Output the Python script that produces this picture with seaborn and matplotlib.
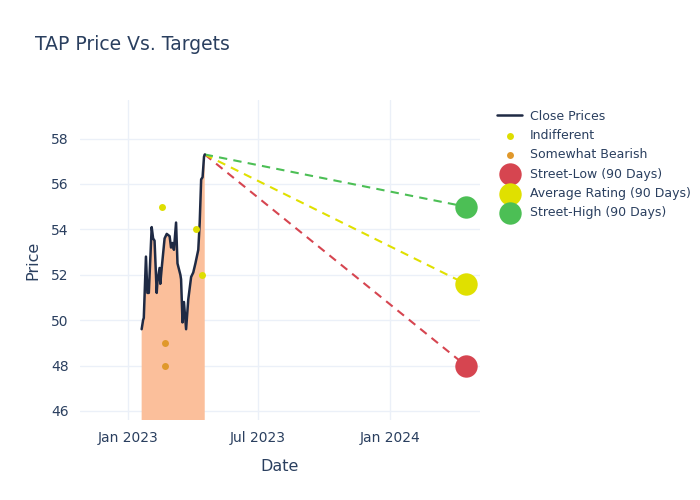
import pandas as pd
import numpy as np
import matplotlib
matplotlib.use('Agg')
import matplotlib.pyplot as plt
import matplotlib.dates as mdates
import seaborn as sns

# close prices
close_dates = ['2023-01-20', '2023-01-22', '2023-01-23', '2023-01-26', '2023-01-28', '2023-01-30',
               '2023-02-03', '2023-02-05', '2023-02-07', '2023-02-10', '2023-02-11', '2023-02-14',
               '2023-02-15', '2023-02-17', '2023-02-21', '2023-02-24', '2023-02-28', '2023-03-02',
               '2023-03-04', '2023-03-06', '2023-03-09', '2023-03-11', '2023-03-15', '2023-03-16',
               '2023-03-18', '2023-03-20', '2023-03-23', '2023-03-26', '2023-03-30', '2023-04-02',
               '2023-04-05', '2023-04-09', '2023-04-11', '2023-04-13', '2023-04-15', '2023-04-17',
               '2023-04-18']
close_prices = [49.6, 50.0, 50.1, 52.8, 51.2, 51.2,
                54.1, 53.6, 53.5, 51.2, 51.7, 52.3,
                51.6, 52.3, 53.6, 53.8, 53.7, 53.2,
                53.4, 53.1, 54.3, 52.5, 52.0, 51.8,
                49.9, 50.8, 49.6, 50.9, 51.9, 52.1,
                52.5, 53.1, 54.3, 56.2, 56.3, 57.2,
                57.3]

indiff_dates = ['2023-02-17', '2023-04-06', '2023-04-14']
indiff_prices = [55, 54, 52]
bearish_dates = ['2023-02-22', '2023-02-22']
bearish_prices = [49, 48]

target_date = '2024-04-16'
target_names = ['Street-Low (90 Days)', 'Average Rating (90 Days)', 'Street-High (90 Days)']
target_values = [48.0, 51.6, 55.0]
target_colors = ['#d64550', '#e0e000', '#4cbf55']

close = pd.DataFrame({'date': pd.to_datetime(close_dates), 'price': close_prices})
indiff = pd.DataFrame({'date': pd.to_datetime(indiff_dates), 'price': indiff_prices})
bearish = pd.DataFrame({'date': pd.to_datetime(bearish_dates), 'price': bearish_prices})

sns.set_style('white')
plt.rcParams['font.family'] = ['DejaVu Sans']
txt = '#2a3f5f'
grid = '#ebf0f8'

fig = plt.figure(figsize=(7, 5), dpi=100)
ax = fig.add_axes([80 / 700, 80 / 500, 400 / 700, 320 / 500])

ax.fill_between(close['date'], close['price'], 0, color='#fbbf9b', lw=0, zorder=1)
sns.lineplot(data=close, x='date', y='price', color='#1f2a44', lw=1.8, ax=ax,
             label='Close Prices', zorder=3)
sns.scatterplot(data=indiff, x='date', y='price', color='#dede00', s=25, lw=0, ax=ax,
                label='Indifferent', zorder=4)
sns.scatterplot(data=bearish, x='date', y='price', color='#e0982a', s=25, lw=0, ax=ax,
                label='Somewhat Bearish', zorder=4)

last_date = close['date'].iloc[-1]
last_price = close['price'].iloc[-1]
tdate = pd.to_datetime(target_date)
for name, val, col in zip(target_names, target_values, target_colors):
    ax.plot([last_date, tdate], [last_price, val], ls=(0, (4, 3)), color=col, lw=1.5, zorder=2)
    sns.scatterplot(x=[tdate], y=[val], color=col, s=260, lw=0, ax=ax, label=name, zorder=5)

ax.set_xlim(pd.Timestamp('2022-10-26'), pd.Timestamp('2024-05-06'))
ax.set_ylim(45.6, 59.7)
ax.set_yticks(np.arange(46, 59, 2))
ax.xaxis.set_major_locator(mdates.MonthLocator(bymonth=[1, 7]))
ax.xaxis.set_major_formatter(mdates.DateFormatter('%b %Y'))
ax.grid(True, color=grid, lw=1)
ax.set_axisbelow(True)
for s in ax.spines.values():
    s.set_visible(False)
ax.tick_params(axis='both', length=0, labelsize=10, colors=txt, pad=8)
ax.set_xlabel('Date', fontsize=11.5, color=txt, labelpad=10)
ax.set_ylabel('Price', fontsize=11.5, color=txt, labelpad=8)

fig.text(35 / 700, 1 - 44 / 500, 'TAP Price Vs. Targets', fontsize=13.5, color=txt, va='center')

leg = ax.legend(loc='upper left', bbox_to_anchor=(1.03, 0.985), frameon=False, fontsize=9,
                labelcolor=txt, handlelength=2, handletextpad=0.6, labelspacing=0.5,
                borderaxespad=0)

fig.savefig('out.png', dpi=100)
